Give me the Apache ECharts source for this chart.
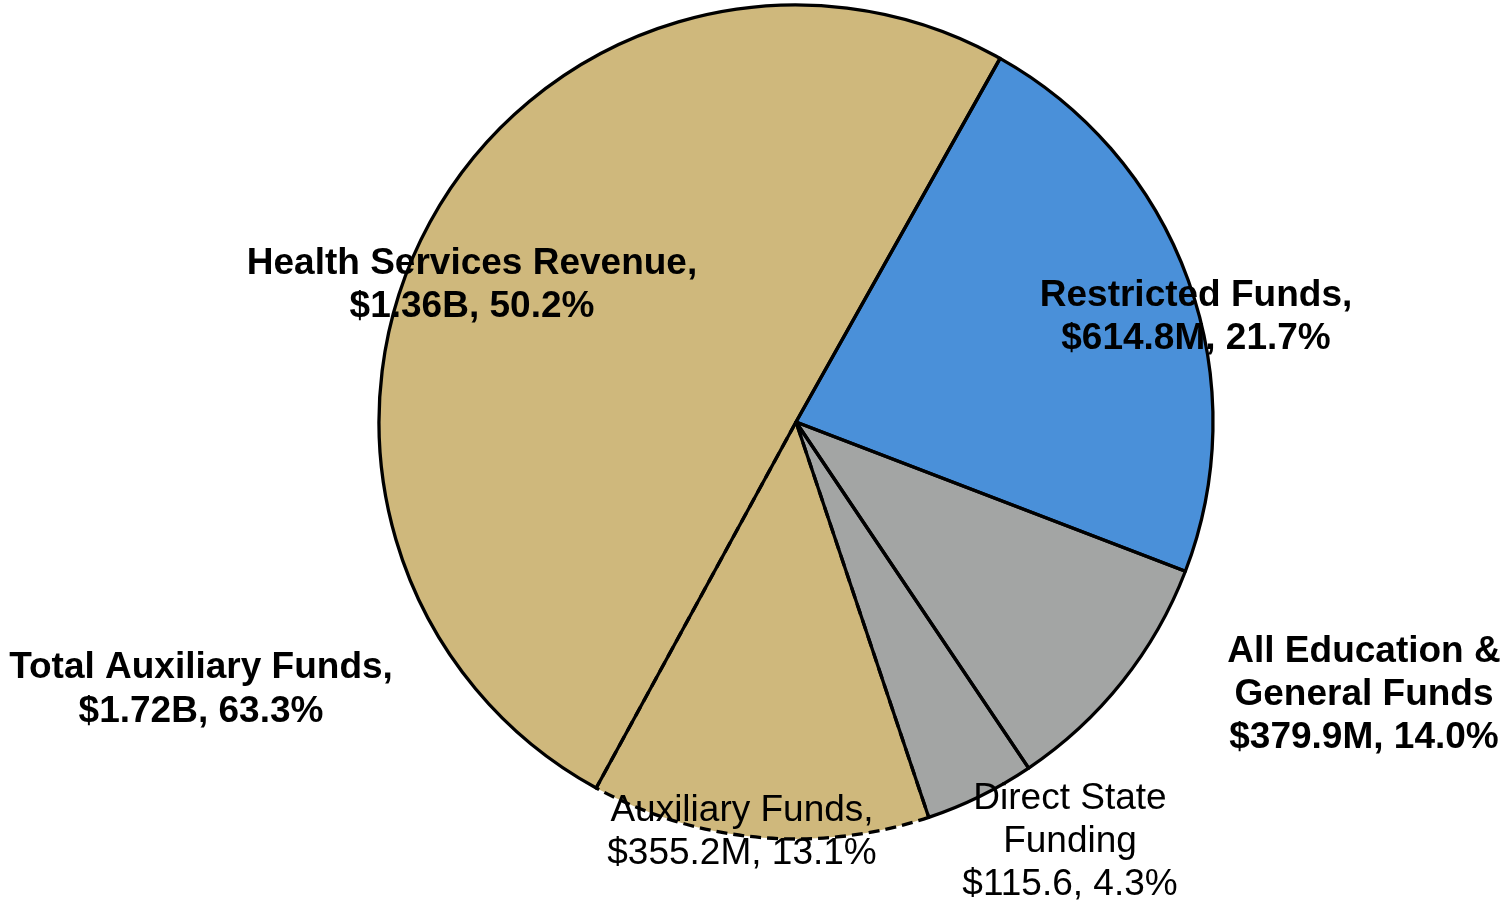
<!DOCTYPE html>
<html>
<head>
<meta charset="utf-8">
<script src="https://cdn.jsdelivr.net/npm/echarts@6/dist/echarts.min.js"></script>
<style>
  html, body { margin: 0; padding: 0; background: #ffffff; }
  #chart { width: 1507px; height: 901px; }
</style>
</head>
<body>
<div id="chart"></div>
<script>
// Revenue sources, in millions of dollars (clockwise from the Restricted slice)
const sliceNames = ['Restricted Funds', 'Other Education & General Funds', 'Direct State Funding', 'Auxiliary Funds', 'Health Services Revenue'];
const restrictedFunds = 614.8;
const allEducationGeneral = 379.9;   // includes Direct State Funding
const directStateFunding = 115.6;
const auxiliaryFunds = 355.2;
const healthServicesRevenue = 1360;  // $1.36B

const sliceValues = [
  restrictedFunds,
  allEducationGeneral - directStateFunding,
  directStateFunding,
  auxiliaryFunds,
  healthServicesRevenue
];

const sliceColors = ['#4a90d9', '#a3a5a4', '#a3a5a4', '#cfb87c', '#cfb87c'];

// Label text per slice
const sliceLabels = [
  'Restricted Funds,\n$614.8M, 21.7%',
  'All Education &\nGeneral Funds\n$379.9M, 14.0%',
  'Direct State\nFunding\n$115.6, 4.3%',
  'Auxiliary Funds,\n$355.2M, 13.1%',
  'Health Services Revenue,\n$1.36B, 50.2%'
];
const boldLabel = [true, true, false, false, true];
const totalAuxiliaryLabel = 'Total Auxiliary Funds,\n$1.72B, 63.3%';

// Where each slice label block is centred on the page
const labelSpots = [[1196, 317], [1364, 695], [1070, 842], [742, 832], [472, 285]];

const FONT = '"Liberation Sans", Arial, Helvetica, sans-serif';
const center = [796, 422];
const radius = 417;
const startAngle = 60.7;

const chart = echarts.init(document.getElementById('chart'), null, { renderer: 'canvas' });

const fillData = sliceNames.map((name, i) => ({
  name,
  value: sliceValues[i],
  itemStyle: { color: sliceColors[i] },
  label: {
    formatter: sliceLabels[i],
    fontWeight: boldLabel[i] ? 'bold' : 'normal'
  }
}));

const outlineData = sliceNames.map((name, i) => ({
  name,
  value: sliceValues[i],
  itemStyle: name === 'Auxiliary Funds'
    ? { borderType: [11, 6] }
    : { borderType: 'solid' }
}));

chart.setOption({
  animation: false,
  backgroundColor: '#ffffff',
  series: [
    {
      type: 'pie',
      z: 2,
      center,
      radius,
      startAngle,
      clockwise: true,
      avoidLabelOverlap: false,
      silent: true,
      itemStyle: { borderWidth: 0 },
      label: {
        show: true,
        position: 'inside',
        color: '#000000',
        fontFamily: FONT,
        fontSize: 37,
        lineHeight: 43,
        align: 'center'
      },
      labelLine: { show: false },
      labelLayout: (p) => ({
        x: labelSpots[p.dataIndex][0],
        y: labelSpots[p.dataIndex][1],
        align: 'center',
        verticalAlign: 'middle'
      }),
      emphasis: { disabled: true },
      data: fillData
    },
    {
      // Outlines drawn above the labels
      type: 'pie',
      z: 5,
      center,
      radius,
      startAngle,
      clockwise: true,
      silent: true,
      label: { show: false },
      labelLine: { show: false },
      itemStyle: {
        color: 'rgba(0,0,0,0)',
        borderColor: '#000000',
        borderWidth: 3.3
      },
      emphasis: { disabled: true },
      data: outlineData
    }
  ],
  graphic: [
    {
      type: 'text',
      z: 1,
      style: {
        text: totalAuxiliaryLabel,
        x: 201,
        y: 690,
        align: 'center',
        verticalAlign: 'middle',
        fontFamily: FONT,
        fontSize: 37,
        fontWeight: 'bold',
        lineHeight: 44,
        fill: '#000000'
      }
    }
  ]
});
</script>
</body>
</html>
